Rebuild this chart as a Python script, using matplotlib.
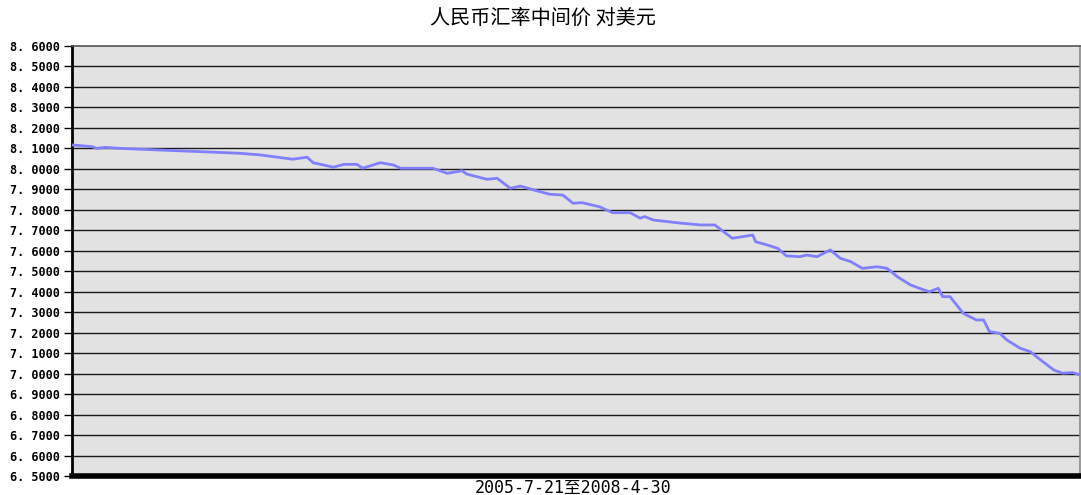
import matplotlib
matplotlib.use("Agg")
import matplotlib.pyplot as plt
import numpy as np

title = "人民币汇率中间价 对美元"
xlabel = "2005-7-21至2008-4-30"

day_index = [0, 14, 17, 23, 33, 60, 88, 115, 129, 151, 161, 165, 179, 186, 195, 199,
             211, 220, 225, 247, 257, 267, 270, 284, 291, 300, 307, 316, 327, 336,
             343, 349, 361, 370, 382, 389, 392, 398, 414, 430, 440, 446, 452, 466,
             468, 476, 483, 489, 498, 503, 510, 519, 526, 533, 541, 551, 558, 565,
             574, 583, 587, 593, 596, 601, 610, 619, 624, 628, 635, 640, 649, 656,
             663, 672, 678, 685, 690]
rate = [8.117, 8.108, 8.100, 8.105, 8.100, 8.092, 8.084, 8.076, 8.068, 8.047, 8.057,
        8.030, 8.008, 8.022, 8.022, 8.003, 8.030, 8.019, 8.003, 8.003, 7.978, 7.991,
        7.975, 7.949, 7.954, 7.905, 7.916, 7.897, 7.876, 7.872, 7.832, 7.835, 7.815,
        7.786, 7.786, 7.759, 7.767, 7.750, 7.737, 7.726, 7.726, 7.693, 7.661, 7.677,
        7.644, 7.628, 7.612, 7.575, 7.571, 7.579, 7.571, 7.604, 7.563, 7.547, 7.514,
        7.522, 7.514, 7.473, 7.433, 7.409, 7.400, 7.417, 7.376, 7.376, 7.295, 7.262,
        7.262, 7.205, 7.197, 7.164, 7.124, 7.107, 7.067, 7.018, 7.002, 7.005, 6.994]

yticks = [round(6.5 + 0.1 * i, 1) for i in range(22)]
ytick_labels = ["{:.4f}".format(v).replace(".", ". ") for v in yticks]

fig = plt.figure(figsize=(10.81, 4.95), dpi=100)
ax = fig.add_axes([72 / 1081, 1 - 476 / 495, 1008 / 1081, 430 / 495])
ax.set_facecolor("#e2e2e2")

for v in yticks[1:-1]:
    ax.axhline(v, color="#1a1a1a", linewidth=1.0, zorder=1)

ax.plot(day_index, rate, color="#8080ff", linewidth=2.0, zorder=3)

ax.set_xlim(0, 690)
ax.set_ylim(6.5, 8.6)
ax.set_yticks(yticks)
ax.set_yticklabels(ytick_labels, family="DejaVu Sans Mono", fontsize=8.5,
                   fontweight="bold")
ax.tick_params(axis="y", length=6, width=1, color="black", pad=3)
ax.set_xticks([])

ax.spines["left"].set_linewidth(2)
ax.spines["left"].set_color("black")
ax.spines["bottom"].set_linewidth(4)
ax.spines["bottom"].set_color("black")
ax.spines["top"].set_color("#555555")
ax.spines["top"].set_linewidth(1.2)
ax.spines["right"].set_color("#888888")
ax.spines["right"].set_linewidth(1.2)

fig.text(543 / 1081, 1 - 18 / 495, title, ha="center", va="center",
         family=["Noto Sans CJK SC", "DejaVu Sans"], fontsize=14.5)
fig.text(573 / 1081, 1 - 488 / 495, xlabel, ha="center", va="center",
         family=["DejaVu Sans Mono", "Noto Sans CJK SC"], fontsize=12)

fig.savefig("out.png", dpi=100)
